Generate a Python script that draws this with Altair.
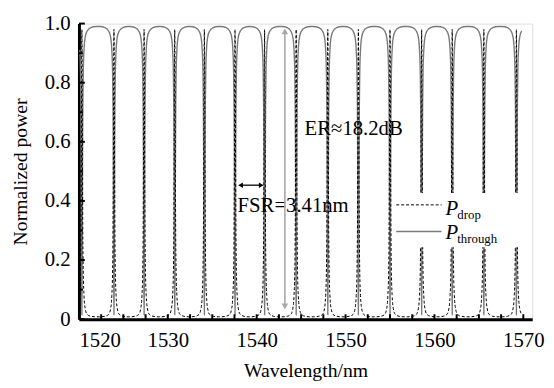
import altair as alt
import pandas as pd

# resonance wavelengths (nm)
centers = [1520.33, 1523.94, 1527.33, 1530.78, 1534.11, 1537.56, 1540.89, 1544.44,
           1548.0, 1551.44, 1555.0, 1558.56, 1562.0, 1565.56, 1569.22]
offsets = [-1.6, -1.0, -0.6, -0.38, -0.24, -0.16, -0.11, -0.075, -0.045, -0.022, 0.0,
           0.022, 0.045, 0.075, 0.11, 0.16, 0.24, 0.38, 0.6, 1.0, 1.6]
through_profile = [0.99, 0.986, 0.975, 0.955, 0.91, 0.84, 0.72, 0.53, 0.3, 0.1, 0.015,
                   0.1, 0.3, 0.53, 0.72, 0.84, 0.91, 0.955, 0.975, 0.986, 0.99]
drop_profile = [0.008, 0.01, 0.016, 0.035, 0.08, 0.155, 0.28, 0.47, 0.7, 0.9, 0.98,
                0.9, 0.7, 0.47, 0.28, 0.155, 0.08, 0.035, 0.016, 0.01, 0.008]

x_ticks = [1520, 1530, 1540, 1550, 1560, 1570]
x_small_ticks = [1522.5, 1525, 1527.5, 1530, 1532.5, 1535, 1537.5, 1540, 1542.5, 1545,
                 1547.5, 1550, 1552.5, 1555, 1557.5, 1560, 1562.5, 1565, 1567.5, 1570]
y_ticks = [0, 0.2, 0.4, 0.6, 0.8, 1.0]
y_small_ticks = [0.1, 0.3, 0.5, 0.7, 0.9]

X_MIN, X_MAX = 1520, 1571
rows = []
for c in centers:
    for o, t, d in zip(offsets, through_profile, drop_profile):
        w = c + o
        if X_MIN <= w <= 1570.0:
            rows.append({"wl": round(w, 3), "through": t, "drop": d})
df = pd.DataFrame(rows).sort_values("wl").reset_index(drop=True)

W, H = 460, 300
FONT = "Liberation Serif"
xs = alt.Scale(domain=[X_MIN, X_MAX], nice=False, zero=False)
ys = alt.Scale(domain=[0, 1], nice=False)

x_axis = alt.Axis(
    values=x_ticks, format="d", ticks=False, grid=False, domainColor="black", domainWidth=3,
    labelFont=FONT, labelFontSize=21, labelColor="black", labelPadding=11,
    title="Wavelength/nm", titleFont=FONT, titleFontSize=20, titleFontWeight="normal",
    titleColor="black", titlePadding=10)
y_axis = alt.Axis(
    values=y_ticks, ticks=False, grid=False, domainColor="black", domainWidth=3,
    labelFont=FONT, labelFontSize=21, labelColor="black", labelPadding=9,
    labelExpr="datum.value == 0 ? '0' : format(datum.value, '.1f')",
    title="Normalized power", titleFont=FONT, titleFontSize=20, titleFontWeight="normal",
    titleColor="black", titlePadding=14)

base = alt.Chart(df)
through = base.mark_line(color="#7a7a7a", strokeWidth=1.4, interpolate="monotone", clip=True).encode(
    x=alt.X("wl:Q", scale=xs, axis=x_axis),
    y=alt.Y("through:Q", scale=ys, axis=y_axis),
)
drop = base.mark_line(color="black", strokeWidth=1, strokeDash=[3, 2], interpolate="monotone", clip=True).encode(
    x=alt.X("wl:Q", scale=xs, axis=x_axis),
    y=alt.Y("drop:Q", scale=ys, axis=y_axis),
)

one = pd.DataFrame({"k": [0]})
legend_bg = alt.Chart(one).mark_rect(color="white").encode(
    x=alt.value(320), x2=alt.value(458), y=alt.value(172), y2=alt.value(227))
leg_drop = alt.Chart(one).mark_rule(color="black", strokeWidth=1, strokeDash=[3, 2]).encode(
    x=alt.value(322), x2=alt.value(368), y=alt.value(184))
leg_thr = alt.Chart(one).mark_rule(color="#7a7a7a", strokeWidth=1.4).encode(
    x=alt.value(322), x2=alt.value(368), y=alt.value(211))
p1 = alt.Chart(one).mark_text(text="P", font=FONT, fontSize=21, fontStyle="italic", align="left",
                              baseline="alphabetic", color="black").encode(x=alt.value(372), y=alt.value(194))
s1 = alt.Chart(one).mark_text(text="drop", font=FONT, fontSize=13, align="left",
                              baseline="alphabetic", color="black").encode(x=alt.value(384), y=alt.value(198))
p2 = alt.Chart(one).mark_text(text="P", font=FONT, fontSize=21, fontStyle="italic", align="left",
                              baseline="alphabetic", color="black").encode(x=alt.value(372), y=alt.value(219))
s2 = alt.Chart(one).mark_text(text="through", font=FONT, fontSize=13, align="left",
                              baseline="alphabetic", color="black").encode(x=alt.value(384), y=alt.value(223))

er_text = alt.Chart(one).mark_text(text="ER≈18.2dB", font=FONT, fontSize=21, align="left",
                                   baseline="alphabetic", color="black").encode(x=alt.value(229), y=alt.value(113))
fsr_text = alt.Chart(one).mark_text(text="FSR=3.41nm", font=FONT, fontSize=21, align="left",
                                    baseline="alphabetic", color="black").encode(x=alt.value(161), y=alt.value(191))

# FSR double arrow
fsr_line = alt.Chart(one).mark_rule(color="black", strokeWidth=1.3).encode(
    x=alt.value(164), x2=alt.value(185), y=alt.value(164))
fsr_l = alt.Chart(one).mark_point(shape="triangle-left", filled=True, color="black", size=30, opacity=1).encode(
    x=alt.value(164), y=alt.value(164))
fsr_r = alt.Chart(one).mark_point(shape="triangle-right", filled=True, color="black", size=30, opacity=1).encode(
    x=alt.value(185), y=alt.value(164))

# ER vertical double arrow
er_line = alt.Chart(one).mark_rule(color="#a6a6a6", strokeWidth=1.6).encode(
    x=alt.value(209), y=alt.value(7), y2=alt.value(288))
er_t = alt.Chart(one).mark_point(shape="triangle-up", filled=True, color="#a6a6a6", size=45, opacity=1).encode(
    x=alt.value(209), y=alt.value(8))
er_b = alt.Chart(one).mark_point(shape="triangle-down", filled=True, color="#a6a6a6", size=45, opacity=1).encode(
    x=alt.value(209), y=alt.value(287))

# inward tick marks
xt = alt.Chart(pd.DataFrame({"wl": x_small_ticks})).mark_rule(color="black", strokeWidth=2).encode(
    x=alt.X("wl:Q", scale=xs, axis=x_axis), y=alt.value(H), y2=alt.value(H - 5))
yt = alt.Chart(pd.DataFrame({"through": y_ticks})).mark_rule(color="black", strokeWidth=2).encode(
    y=alt.Y("through:Q", scale=ys, axis=y_axis), x=alt.value(0), x2=alt.value(6))
yt2 = alt.Chart(pd.DataFrame({"through": y_small_ticks})).mark_rule(color="black", strokeWidth=2).encode(
    y=alt.Y("through:Q", scale=ys, axis=y_axis), x=alt.value(0), x2=alt.value(4))

chart = alt.layer(
    through, drop, legend_bg, leg_drop, leg_thr, p1, s1, p2, s2, er_text, fsr_text,
    fsr_line, fsr_l, fsr_r, er_line, er_t, er_b, xt, yt, yt2
).properties(
    width=W, height=H,
    autosize=alt.AutoSizeParams(type="none"),
    padding={"left": 72, "top": 13, "right": 14, "bottom": 66},
).configure_view(stroke=None).configure(background="white", font=FONT).configure_axis(
    labelFont=FONT, titleFont=FONT)

chart.save("out.html", embed_options={"renderer": "svg", "actions": False})
